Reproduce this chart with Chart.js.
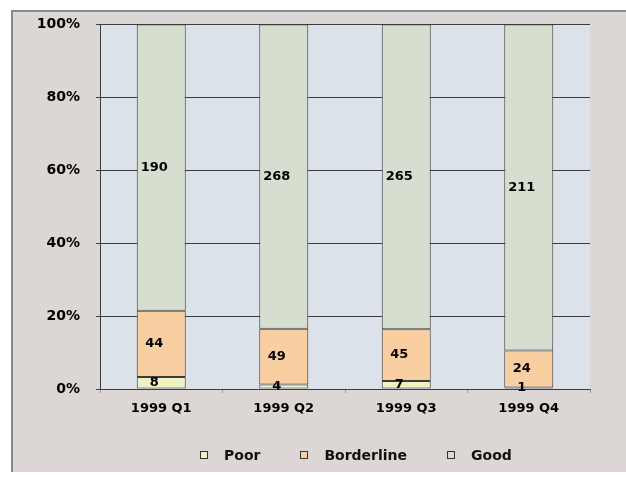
<!DOCTYPE html>
<html>
<head>
<meta charset="utf-8">
<script src="https://cdn.jsdelivr.net/npm/chart.js@4"></script>
<style>
  html, body { margin: 0; padding: 0; background: #ffffff; overflow: hidden; }
  #wrap { position: relative; width: 626px; height: 477px; overflow: hidden; }
  #frame {
    position: absolute; left: 11px; top: 10px; width: 620px; height: 460px;
    background: #dcd6d5; border-top: 2px solid #8a8a8a; border-left: 2px solid #8a8a8a;
  }
  #myChart { position: absolute; left: 0; top: 0; }
  #legend {
    position: absolute; left: 200px; top: 447px; display: flex; align-items: center;
    font: bold 14px "DejaVu Sans", sans-serif; color: #111;
  }
  #legend .item { display: flex; align-items: center; margin-right: 40px; }
  #legend .box { width: 6px; height: 6px; border: 1px solid #333; margin-right: 16px; }
</style>
</head>
<body>
<div id="wrap">
  <div id="frame"></div>
  <canvas id="myChart" width="626" height="477"></canvas>
  <div id="legend"></div>
</div>
<script>
// Chart data
const quarters = ['1999 Q1', '1999 Q2', '1999 Q3', '1999 Q4'];
const seriesNames = ['Poor', 'Borderline', 'Good'];
const poor = [8, 4, 7, 1];
const borderline = [44, 49, 45, 24];
const good = [190, 268, 265, 211];
const yTicks = [0, 20, 40, 60, 80, 100];

const counts = [poor, borderline, good];
const colors = ['#eff2c0', '#f9cfa2', '#d6dfcf'];

// 100% stacking: convert counts to share of quarter total
const totals = quarters.map((q, i) => poor[i] + borderline[i] + good[i]);
const toPct = arr => arr.map((v, i) => v / totals[i] * 100);

const font = { family: '"DejaVu Sans", sans-serif', weight: 'bold' };

// Plot area background
const plotBg = {
    id: 'plotBg',
    beforeDraw: (chart) => {
        const { ctx, chartArea: a } = chart;
        ctx.save();
        ctx.fillStyle = '#dce2ea';
        ctx.fillRect(a.left, a.top, a.right - a.left, a.bottom - a.top);
        ctx.restore();
    }
};

// Count labels inside each segment
const segLabels = {
    id: 'segLabels',
    afterDatasetsDraw: (chart) => {
        const { ctx } = chart;
        ctx.save();
        ctx.font = 'bold 13px "DejaVu Sans", sans-serif';
        ctx.fillStyle = '#000';
        ctx.textAlign = 'center';
        ctx.textBaseline = 'middle';
        chart.data.datasets.forEach((ds, i) => {
            chart.getDatasetMeta(i).data.forEach((bar, j) => {
                const { x, y, base } = bar.getProps(['x', 'y', 'base'], true);
                ctx.fillText(String(counts[i][j]), x - 7, (y + base) / 2);
            });
        });
        ctx.restore();
    }
};

// HTML legend built from the datasets
const htmlLegend = {
    id: 'htmlLegend',
    afterUpdate: (chart) => {
        const el = document.getElementById('legend');
        el.innerHTML = '';
        chart.data.datasets.forEach(ds => {
            const item = document.createElement('div');
            item.className = 'item';
            const box = document.createElement('span');
            box.className = 'box';
            box.style.background = ds.backgroundColor;
            const txt = document.createElement('span');
            txt.textContent = ds.label;
            item.appendChild(box);
            item.appendChild(txt);
            el.appendChild(item);
        });
    }
};

const ctx = document.getElementById('myChart').getContext('2d');
new Chart(ctx, {
    type: 'bar',
    data: {
        labels: quarters,
        datasets: seriesNames.map((name, i) => ({
            label: name,
            data: toPct(counts[i]),
            backgroundColor: colors[i],
            borderColor: '#3c3c3c',
            borderWidth: 1,
            borderSkipped: false,
            categoryPercentage: 1.0,
            barPercentage: 0.4
        }))
    },
    options: {
        responsive: false,
        animation: false,
        layout: { padding: { left: 0, top: 24, right: 36, bottom: 48 } },
        plugins: {
            legend: { display: false },
            tooltip: { enabled: false }
        },
        scales: {
            x: {
                stacked: true,
                offset: true,
                grid: { display: true, drawOnChartArea: false, drawTicks: true, tickLength: 4, color: '#9a9a9a', offset: true },
                border: { display: true, color: '#3c3c3c' },
                ticks: { color: '#000', font: { ...font, size: 13 }, padding: 8, maxRotation: 0 },
                afterFit: (s) => { s.height = 40; }
            },
            y: {
                stacked: true,
                min: 0,
                max: 100,
                afterBuildTicks: (s) => { s.ticks = yTicks.map(v => ({ value: v })); },
                grid: { color: '#3c3c3c', lineWidth: 1, tickLength: 4 },
                border: { display: true, color: '#3c3c3c' },
                ticks: { color: '#000', font: { ...font, size: 14 }, padding: 16, callback: v => v + '%' },
                afterFit: (s) => { s.width = 100; }
            }
        }
    },
    plugins: [plotBg, segLabels, htmlLegend]
});
</script>
</body>
</html>
